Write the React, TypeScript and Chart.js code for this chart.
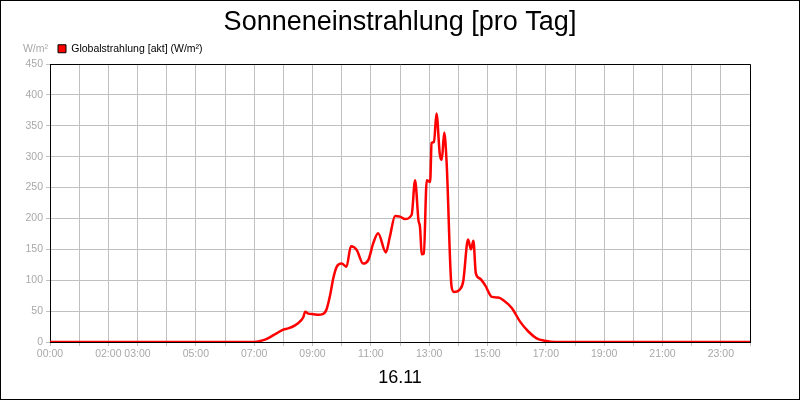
import React, { useEffect, useRef } from 'react';
import { Chart, registerables } from 'chart.js';

Chart.register(...registerables);

const TITLE = 'Sonneneinstrahlung [pro Tag]';
const DATE_LABEL = '16.11';
const UNIT = 'W/m²';
const SERIES_NAME = 'Globalstrahlung [akt] (W/m²)';

const times = [
  '00:00', '07:00', '07:19', '07:33', '07:46', '08:00', '08:10', '08:24', '08:34', '08:41',
  '08:45', '08:51', '09:02', '09:12', '09:21', '09:29', '09:36', '09:43', '09:50', '10:00',
  '10:10', '10:19', '10:31', '10:44', '10:55', '11:05', '11:15', '11:31', '11:39', '11:50',
  '12:00', '12:10', '12:24', '12:31', '12:38', '12:41', '12:45', '12:49', '12:55', '13:02',
  '13:05', '13:10', '13:15', '13:22', '13:26', '13:31', '13:36', '13:46', '13:51', '14:03',
  '14:10', '14:20', '14:26', '14:31', '14:36', '14:44', '14:55', '15:09', '15:22', '15:32',
  '15:50', '16:07', '16:24', '16:41', '16:58', '17:20', '24:00',
];
const values = [
  0, 0, 3, 8, 14, 20, 22, 27, 33, 40,
  49, 46, 45, 44, 45, 53, 75, 104, 122, 127,
  122, 155, 149, 127, 133, 160, 176, 145, 170, 204,
  203, 199, 206, 262, 197, 187, 142, 143, 262, 259,
  322, 324, 370, 303, 295, 339, 289, 90, 81, 85,
  98, 166, 150, 164, 111, 103, 92, 73, 72, 68,
  55, 33, 17, 6, 2, 0, 0,
];
const xLabelHours = [0, 2, 3, 5, 7, 9, 11, 13, 15, 17, 19, 21, 23];
const yMax = 450;
const yStep = 50;

const FONT = "'Liberation Sans', Arial, sans-serif";
const TICK_COLOR = '#a8a8a8';
const GRID_COLOR = '#c0c0c0';

const toHours = (t: string) => {
  const [h, m] = t.split(':').map(Number);
  return h + m / 60;
};
const fmtHour = (h: number) => String(h).padStart(2, '0') + ':00';

const framePlugin = {
  id: 'frame',
  afterDraw(chart: any) {
    const { ctx, chartArea } = chart;
    ctx.save();
    ctx.strokeStyle = '#000';
    ctx.lineWidth = 1;
    ctx.beginPath();
    ctx.moveTo(Math.round(chartArea.left) + 0.5, Math.round(chartArea.top) + 0.5);
    ctx.lineTo(Math.round(chartArea.right) + 0.5, Math.round(chartArea.top) + 0.5);
    ctx.lineTo(Math.round(chartArea.right) + 0.5, Math.round(chartArea.bottom) + 0.5);
    ctx.stroke();
    ctx.strokeRect(0.5, 0.5, chart.width - 1, chart.height - 1);
    ctx.fillStyle = TICK_COLOR;
    ctx.font = `10.5px ${FONT}`;
    ctx.textAlign = 'right';
    ctx.textBaseline = 'middle';
    ctx.fillText(UNIT, chartArea.left - 2, 49);
    ctx.restore();
  },
};

export default function App() {
  const ref = useRef<HTMLCanvasElement>(null);
  useEffect(() => {
    if (!ref.current) return;
    Chart.defaults.font.family = FONT;
    const data = times.map((t, i) => ({ x: toHours(t), y: values[i] }));
    const chart = new Chart(ref.current, {
      type: 'line',
      data: {
        datasets: [
          {
            label: SERIES_NAME,
            data,
            borderColor: '#ff0000',
            backgroundColor: '#ff0000',
            borderWidth: 2.5,
            pointRadius: 0,
            cubicInterpolationMode: 'monotone',
            fill: false,
          },
        ],
      },
      options: {
        animation: false,
        responsive: false,
        devicePixelRatio: 1,
        layout: { padding: { left: 0, right: 0, top: 0, bottom: 1 } },
        plugins: {
          title: {
            display: true,
            text: TITLE,
            color: '#000',
            font: { size: 27, weight: 'normal', family: FONT, lineHeight: 0.9 },
            padding: { top: 5.3, bottom: 0.9 },
          },
          legend: {
            display: true,
            position: 'top',
            align: 'start',
            fullSize: false,
            labels: {
              boxWidth: 8,
              boxHeight: 8,
              padding: 8,
              color: '#000',
              font: { size: 10.5, family: FONT },
              generateLabels: (c: any) =>
                Chart.defaults.plugins.legend.labels.generateLabels(c).map((l: any) => ({
                  ...l,
                  strokeStyle: '#000',
                  lineWidth: 1,
                })),
            },
          },
          tooltip: { enabled: false },
        },
        scales: {
          x: {
            type: 'linear',
            min: 0,
            max: 24,
            afterFit: (s: any) => {
              s.height = 57;
              s.paddingRight = 50;
            },
            ticks: {
              stepSize: 1,
              autoSkip: false,
              maxRotation: 0,
              color: TICK_COLOR,
              font: { size: 10.5 },
              padding: 2,
              callback: (v: any) => (xLabelHours.includes(Number(v)) ? fmtHour(Number(v)) : ''),
            },
            grid: { color: GRID_COLOR, tickLength: 4 },
            border: { color: '#000', width: 1 },
            title: {
              display: true,
              text: DATE_LABEL,
              color: '#000',
              font: { size: 18 },
              padding: { top: 0, bottom: 10 },
            },
          },
          y: {
            min: 0,
            max: yMax,
            afterFit: (s: any) => {
              s.width = 50;
              s.paddingTop = 64;
            },
            ticks: {
              stepSize: yStep,
              color: TICK_COLOR,
              font: { size: 10.5 },
              padding: 3,
            },
            grid: { color: GRID_COLOR, tickLength: 4 },
            border: { color: '#000', width: 1 },
          },
        },
      },
      plugins: [framePlugin],
    });
    return () => chart.destroy();
  }, []);
  return (
    <div style={{ position: 'absolute', left: 0, top: 0, width: 800, height: 400, background: '#fff' }}>
      <canvas ref={ref} width={800} height={400} />
    </div>
  );
}
